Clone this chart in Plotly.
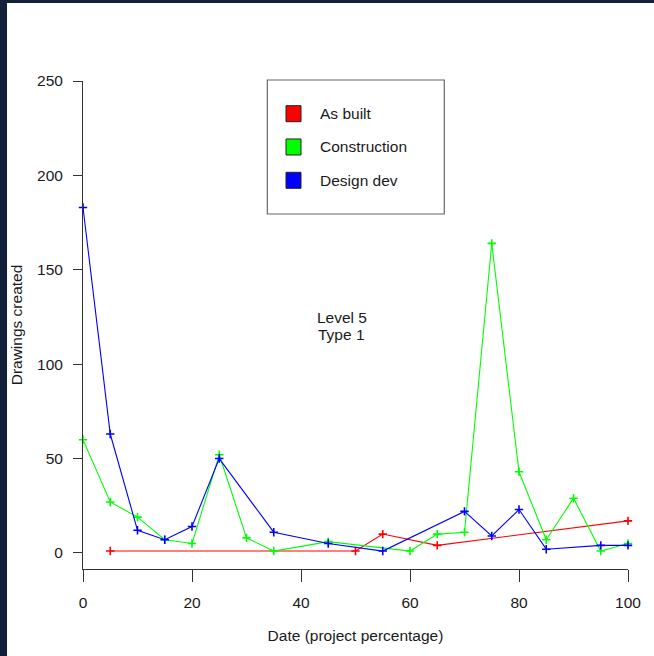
import plotly.graph_objects as go

# ---- data ----
series_names = ["As built", "Construction", "Design dev"]
series_colors = ["#ff0000", "#00ff00", "#0000ff"]

asbuilt_x = [5, 50, 55, 65, 100]
asbuilt_y = [1, 1, 10, 4, 17]

construction_x = [0, 5, 10, 15, 20, 25, 30, 35, 45, 60, 65, 70, 75, 80, 85, 90, 95, 100]
construction_y = [60, 27, 19, 7, 5, 52, 8, 1, 6, 1, 10, 11, 164, 43, 7, 29, 1, 5]

design_x = [0, 5, 10, 15, 20, 25, 35, 45, 55, 70, 75, 80, 85, 95, 100]
design_y = [183, 63, 12, 7, 14, 50, 11, 5, 1, 22, 9, 23, 2, 4, 4]

x_ticks = [0, 20, 40, 60, 80, 100]
y_ticks = [0, 50, 100, 150, 200, 250]

annotation_lines = ["Level 5", "Type 1"]

FONT = "Liberation Sans, Arial, sans-serif"
FS = 15.5
TXT = "#1a1a1a"
AX = "#333333"

fig = go.Figure()
for name, color, xs, ys in zip(series_names, series_colors,
                               [asbuilt_x, construction_x, design_x],
                               [asbuilt_y, construction_y, design_y]):
    fig.add_trace(go.Scatter(
        x=xs, y=ys, mode="lines+markers", name=name,
        line=dict(color=color, width=1.1),
        marker=dict(symbol="cross-thin", size=6, line=dict(color=color, width=1.6)),
        showlegend=False, cliponaxis=False,
    ))

# text in the plot
fig.add_annotation(x=47.5, y=124.5, text=annotation_lines[0], showarrow=False,
                   font=dict(family=FONT, size=FS, color=TXT))
fig.add_annotation(x=47.5, y=115.5, text=annotation_lines[1], showarrow=False,
                   font=dict(family=FONT, size=FS, color=TXT))

# manual legend box (paper coordinates)
shapes = [
    # dark frame strips
    dict(type="rect", xref="paper", yref="paper", x0=-0.2, x1=1.2, y0=1.1598, y1=1.3,
         fillcolor="#132039", line=dict(width=0), layer="below"),
    dict(type="rect", xref="paper", yref="paper", x0=-0.2, x1=-0.1394, y0=-0.3, y1=1.3,
         fillcolor="#132039", line=dict(width=0), layer="below"),
    dict(type="rect", xref="paper", yref="paper", x0=0.3382, x1=0.6629, y0=0.7275, y1=1.0020,
         fillcolor="white", line=dict(color="#666666", width=1.2)),
]
row_y = [0.933, 0.8648, 0.7965]
for name, color, yc in zip(series_names, series_colors, row_y):
    shapes.append(dict(type="rect", xref="paper", yref="paper", x0=0.3725, x1=0.40,
                       y0=yc - 0.0164, y1=yc + 0.0164, fillcolor=color,
                       line=dict(color="#222222", width=1)))
    fig.add_annotation(xref="paper", yref="paper", x=0.4312, y=yc, text=name,
                       showarrow=False, xanchor="left", yanchor="middle",
                       font=dict(family=FONT, size=FS, color=TXT))

fig.update_layout(
    width=654, height=656,
    margin=dict(l=83, r=26, t=81, b=87),
    paper_bgcolor="white", plot_bgcolor="white",
    font=dict(family=FONT, size=FS, color=TXT),
    shapes=shapes,
    xaxis=dict(range=[0, 100], tickvals=x_ticks, showgrid=False, zeroline=False,
               showline=True, linecolor=AX, linewidth=1,
               ticks="outside", ticklen=12, tickcolor=AX, tickwidth=1,
               ticklabelstandoff=7,
               tickfont=dict(family=FONT, size=FS, color=TXT),
               title=dict(text="Date (project percentage)", standoff=20,
                          font=dict(family=FONT, size=FS, color=TXT))),
    yaxis=dict(range=[-8.5, 250], tickvals=y_ticks, showgrid=False, zeroline=False,
               showline=True, linecolor=AX, linewidth=1,
               ticks="outside", ticklen=9, tickcolor=AX, tickwidth=1,
               ticklabelstandoff=7,
               tickfont=dict(family=FONT, size=FS, color=TXT),
               title=dict(text="Drawings created", standoff=10,
                          font=dict(family=FONT, size=FS, color=TXT))),
)

fig.write_html("out.html", config={"displayModeBar": False},
               post_script="document.body.style.margin='0';")
